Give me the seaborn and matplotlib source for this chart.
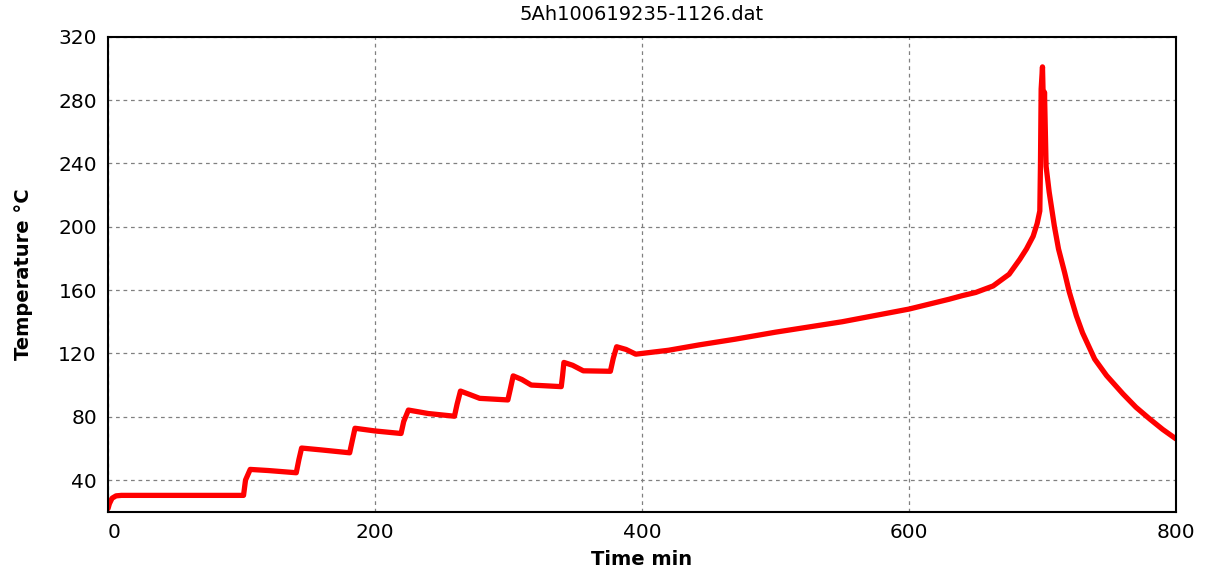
import pandas as pd
import seaborn as sns
from matplotlib import pyplot as plt

# time (min) and temperature (deg C)
time_min = [0, 1, 3, 6, 10, 30, 60, 101.5,
            103, 106.5, 120, 141,
            143, 145, 160, 181,
            183, 185, 200, 219.5,
            221.5, 225, 240, 259.5,
            261.5, 264, 271, 278.4, 299.5,
            301.5, 303.5, 310, 317, 339.5,
            340.5, 341.5, 348, 356, 376.3,
            378.5, 381, 388, 395.3,
            420, 443, 470, 500, 550, 600, 630, 640, 650, 663, 675, 683, 688, 693, 696,
            698, 698.5, 699, 700, 701, 701.5, 702.7,
            705, 708.9, 712, 716.6, 720, 725.4, 730, 739.1, 748, 760.3, 770, 780.3, 790, 800]
temp_c = [22, 25, 28.5, 30, 30.3, 30.3, 30.3, 30.3,
          40, 46.7, 46, 44.6,
          53, 60.2, 59, 57.2,
          65, 72.7, 71, 69.4,
          77, 84.2, 82, 80.3,
          88, 96.2, 94, 91.6, 90.6,
          98, 105.8, 103.5, 100, 99,
          106, 114.3, 112.5, 109, 108.7,
          117, 124.2, 122.5, 119.5,
          122, 125.4, 129, 133.4, 140, 148, 154.2, 156.5, 158.5, 162.6, 170, 179.4, 186, 194, 202,
          210, 240, 287, 301, 265, 285, 238.2,
          222, 200.4, 186, 171, 159, 143.7, 133, 116.4, 106, 94.4, 86, 78.6, 72, 66]

x_ticks = [0, 200, 400, 600, 800]
y_ticks = [40, 80, 120, 160, 200, 240, 280, 320]

df = pd.DataFrame({'time': time_min, 'temp': temp_c})

sns.set_style('white')
plt.rcParams['font.family'] = ['DejaVu Sans']

fig = plt.figure(figsize=(12.18, 5.77), dpi=100)
ax = fig.add_axes([0.0887, 0.1132, 0.8768, 0.8230])

sns.lineplot(data=df, x='time', y='temp', sort=False, estimator=None,
             color='#ff0000', linewidth=3.8, ax=ax)

ax.set_xlim(0, 800)
ax.set_ylim(20, 320)
ax.set_xticks(x_ticks)
ax.set_yticks(y_ticks)
ax.grid(True, color='#808080', linestyle=(0, (3, 3)), linewidth=0.9)
ax.tick_params(axis='both', labelsize=14.5, length=4, width=1, pad=4,
               direction='out', colors='black')
# the first x label sits just right of the axis corner
ax.get_xticklabels()[0].set_horizontalalignment('left')

for side in ['left', 'bottom', 'top', 'right']:
    ax.spines[side].set_visible(True)
    ax.spines[side].set_color('black')
    ax.spines[side].set_linewidth(1.5)

ax.set_xlabel('Time min', fontsize=14, fontweight='bold', color='black', labelpad=6)
ax.set_ylabel('Temperature °C', fontsize=14, fontweight='bold', color='black', labelpad=18)
ax.set_title('5Ah100619235-1126.dat', fontsize=14, color='black', pad=12)

plt.savefig('out.png', dpi=100)
